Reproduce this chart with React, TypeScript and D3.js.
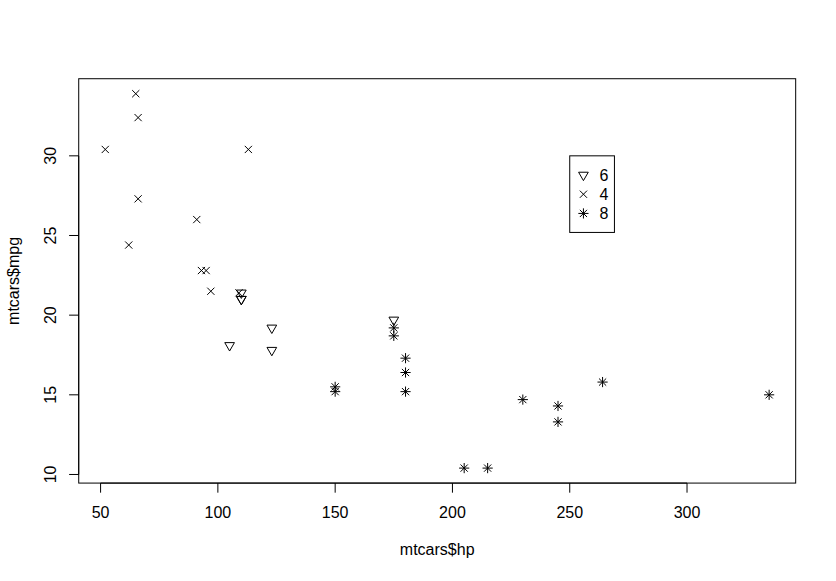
import React from "react";
import * as d3 from "d3";

// mtcars data (row order)
const hp = [110, 110, 93, 110, 175, 105, 245, 62, 95, 123, 123, 180, 180, 180, 205, 215, 230, 66, 52, 65, 97, 150, 150, 245, 175, 66, 91, 113, 264, 175, 335, 109];
const mpg = [21.0, 21.0, 22.8, 21.4, 18.7, 18.1, 14.3, 24.4, 22.8, 19.2, 17.8, 16.4, 17.3, 15.2, 10.4, 10.4, 14.7, 32.4, 30.4, 33.9, 21.5, 15.5, 15.2, 13.3, 19.2, 27.3, 26.0, 30.4, 15.8, 19.7, 15.0, 21.4];
const cyl = [6, 6, 4, 6, 8, 6, 8, 4, 4, 6, 6, 8, 8, 8, 8, 8, 8, 4, 4, 4, 4, 8, 8, 8, 8, 4, 4, 4, 8, 6, 8, 4];
const xTicks = [50, 100, 150, 200, 250, 300];
const yTicks = [10, 15, 20, 25, 30];
const legendLabels = ["6", "4", "8"];
const xLabel = "mtcars$hp";
const yLabel = "mtcars$mpg";

const W = 836, H = 581;
const L = 78.72, R = 795.68, T = 78.72, B = 483.08;
const S = 3.6; // symbol base size
const FONT = "'Liberation Sans', Arial, Helvetica, sans-serif";

function pad(ext: [number, number]): [number, number] {
  const d = (ext[1] - ext[0]) * 0.04;
  return [ext[0] - d, ext[1] + d];
}

function Sym({ pch, x, y }: { pch: number; x: number; y: number }) {
  const st = { stroke: "#000", strokeWidth: 1, fill: "none" };
  if (pch === 6) {
    const r = 1.555 * S, xc = 1.347 * S, yc = 0.778 * S;
    const pts = [[x, y + r], [x + xc, y - yc], [x - xc, y - yc]];
    return <polygon points={pts.map(p => p.join(",")).join(" ")} {...st} />;
  }
  const xs = S;
  const cross = `M${x - xs},${y - xs}L${x + xs},${y + xs}M${x - xs},${y + xs}L${x + xs},${y - xs}`;
  if (pch === 4) return <path d={cross} {...st} />;
  const p = Math.SQRT2 * S;
  return <path d={`${cross}M${x - p},${y}L${x + p},${y}M${x},${y - p}L${x},${y + p}`} {...st} />;
}

export default function App() {
  const x = d3.scaleLinear().domain(pad(d3.extent(hp) as [number, number])).range([L, R]);
  const y = d3.scaleLinear().domain(pad(d3.extent(mpg) as [number, number])).range([B, T]);
  const tick = 9.6;
  const lx = x(250), ly = y(30);
  return (
    <svg width={W} height={H} style={{ position: "absolute", left: 0, top: 0, background: "#fff" }} fontFamily={FONT} fontSize={16}>
      <rect x={0} y={0} width={W} height={H} fill="#fff" />
      {/* points */}
      {hp.map((h, i) => <Sym key={i} pch={cyl[i]} x={x(h)} y={y(mpg[i])} />)}
      {/* box */}
      <rect x={L} y={T} width={R - L} height={B - T} fill="none" stroke="#000" strokeWidth={1} />
      {/* x axis */}
      <line x1={x(xTicks[0])} x2={x(xTicks[xTicks.length - 1])} y1={B} y2={B} stroke="#000" />
      {xTicks.map(t => (
        <g key={t}>
          <line x1={x(t)} x2={x(t)} y1={B} y2={B + tick} stroke="#000" />
          <text x={x(t)} y={518} textAnchor="middle" fill="#000">{t}</text>
        </g>
      ))}
      {/* y axis */}
      <line x1={L} x2={L} y1={y(yTicks[0])} y2={y(yTicks[yTicks.length - 1])} stroke="#000" />
      {yTicks.map(t => (
        <g key={t}>
          <line x1={L} x2={L - tick} y1={y(t)} y2={y(t)} stroke="#000" />
          <text transform={`translate(55.7,${y(t)}) rotate(-90)`} textAnchor="middle" fill="#000">{t}</text>
        </g>
      ))}
      <text x={(L + R) / 2} y={554.7} textAnchor="middle" fill="#000">{xLabel}</text>
      <text transform={`translate(18.5,${(T + B) / 2}) rotate(-90)`} textAnchor="middle" fill="#000">{yLabel}</text>
      {/* legend */}
      <rect x={lx} y={ly} width={44.7} height={76.6} fill="none" stroke="#000" strokeWidth={1} />
      {legendLabels.map((lab, i) => {
        const cy = ly + 19.2 * (i + 1);
        return (
          <g key={lab}>
            <Sym pch={+lab} x={lx + 13.7} y={cy} />
            <text x={lx + 29.7} y={cy + 5.7} fill="#000">{lab}</text>
          </g>
        );
      })}
    </svg>
  );
}
